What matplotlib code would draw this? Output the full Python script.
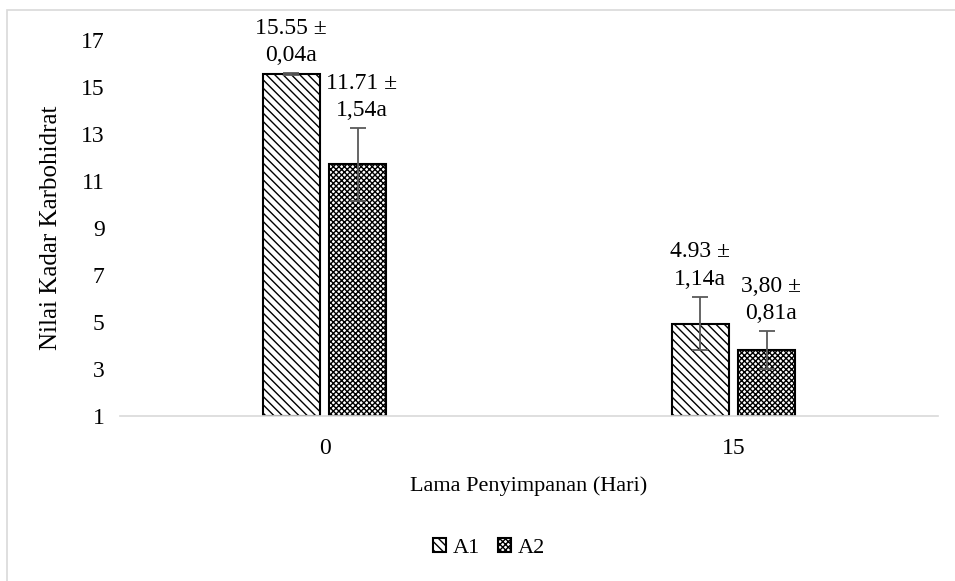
import matplotlib.pyplot as plt
import matplotlib.patches as mpatches
import numpy as np

plt.rcParams['font.family'] = 'Liberation Serif'
plt.rcParams['hatch.linewidth'] = 1.0

days = ['0', '15']
series = ['A1', 'A2']
a1 = [15.55, 4.93]
a2 = [11.71, 3.80]
a1_err = [0.04, 1.14]
a2_err = [1.54, 0.81]
a1_lbl = ['15.55 ±\n0,04a', '4.93 ±\n1,14a']
a2_lbl = ['11.71 ±\n1,54a', '3,80 ±\n0,81a']
yticks = [1, 3, 5, 7, 9, 11, 13, 15, 17]

fig = plt.figure(figsize=(9.55, 5.81), dpi=100)
ax = fig.add_axes([120/955, 1-416/581, 818/955, 376/581])

x = np.arange(len(days))
w = 0.14
gap = 0.011
b1 = ax.bar(x - w/2 - gap, [v - 1 for v in a1], w, bottom=1, color='white',
            edgecolor='black', linewidth=1.5, hatch='\\\\\\\\', label='A1')
b2 = ax.bar(x + w/2 + gap, [v - 1 for v in a2], w, bottom=1, color='white',
            edgecolor='black', linewidth=1.5, hatch='xxxxxx', label='A2')
ax.errorbar(x - w/2 - gap, a1, yerr=a1_err, fmt='none', ecolor='#595959',
            elinewidth=1.3, capsize=6, capthick=1.3)
ax.errorbar(x + w/2 + gap, a2, yerr=a2_err, fmt='none', ecolor='#595959',
            elinewidth=1.3, capsize=6, capthick=1.3)

for i in range(len(days)):
    ax.text(x[i] - w/2 - gap, a1[i] + a1_err[i] + 0.3, a1_lbl[i], ha='center',
            va='bottom', fontsize=17, linespacing=1.4)
    ax.text(x[i] + w/2 + gap + 0.01, a2[i] + a2_err[i] + 0.3, a2_lbl[i], ha='center',
            va='bottom', fontsize=17, linespacing=1.4)

ax.set_xlim(-0.5, 1.5)
ax.set_ylim(1, 17)
ax.set_yticks(yticks)
ax.set_xticks(x)
ax.set_xticklabels(days)
ax.tick_params(length=0, labelsize=17)
ax.tick_params(axis='x', pad=16)
ax.tick_params(axis='y', pad=11)
for s in ['top', 'right', 'left']:
    ax.spines[s].set_visible(False)
ax.spines['bottom'].set_color('#d9d9d9')
ax.spines['bottom'].set_linewidth(1.2)

ax.set_xlabel('Lama Penyimpanan (Hari)', fontsize=16, labelpad=12)
ax.set_ylabel('Nilai Kadar Karbohidrat', fontsize=18, labelpad=14)

fig.legend(handles=[b1, b2], loc='center', bbox_to_anchor=(489/955, 1-548/581),
           ncol=2, frameon=False, fontsize=16, handlelength=0.6, handleheight=0.6,
           handletextpad=0.3, columnspacing=0.8)

fig.patches.append(mpatches.Rectangle((7/955, -0.1), 1.2, 1-10/581+0.1,
                                      transform=fig.transFigure, fill=False,
                                      edgecolor='#d9d9d9', linewidth=1.2))

fig.savefig('out.png', dpi=100)
